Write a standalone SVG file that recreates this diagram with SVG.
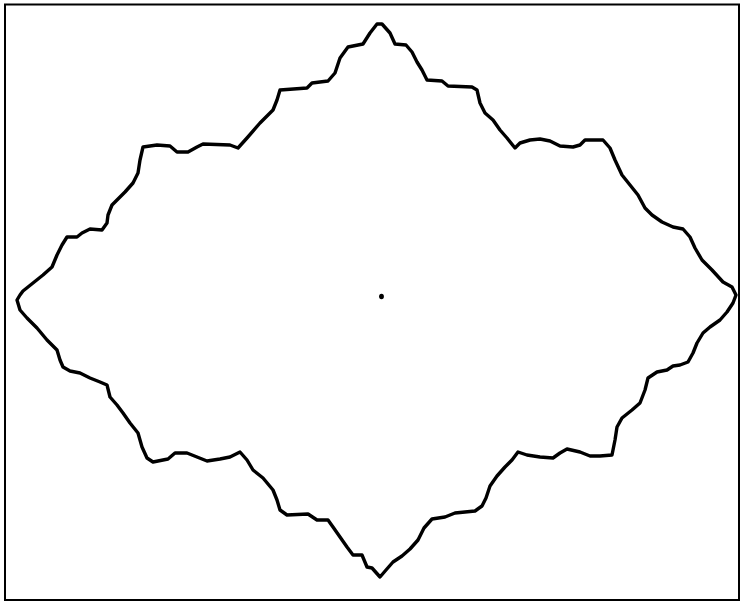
<svg xmlns="http://www.w3.org/2000/svg" width="741" height="602" viewBox="0 0 741 602">
<style>
.frame{fill:none;stroke:#000;stroke-width:2}
.curve{fill:none;stroke:#000;stroke-width:3.4;stroke-linejoin:round;stroke-linecap:round}
</style>
<rect x="0" y="0" width="741" height="602" fill="#fff"/>
<rect class="frame" x="5" y="4.5" width="734" height="595.5"/>
<g id="fractal">
<path class="curve" d="M17,300 L20,295 L23,291 L33,283 L43,275 L52,267 L57,255 L62,245 L67,237 L77,237 L82,233 L90,229 L102,230 L107,223 L108,215 L112,205 L117,200 L125,192 L133,183 L138,173 L140,160 L143,147 L157,145 L170,146 L177,152 L188,152 L197,147 L203,144 L230,145 L238,148 L247,138 L260,123 L273,110 L277,100 L280,90 L307,88 L312,83 L328,81 L335,73 L340,58 L348,47 L363,44 L370,33 L377,24 L382,24 L390,33 L395,44 L406,45 L412,52 L417,62 L422,70 L427,80 L442,81 L448,86 L472,87 L477,90 L480,103 L485,113 L493,120 L500,130 L507,138 L515,148 L520,143 L530,140 L540,139 L550,141 L560,146 L573,147 L580,145 L585,140 L603,140 L610,148 L615,160 L622,175 L630,185 L638,195 L645,208 L652,215 L662,222 L673,227 L683,229 L690,237 L695,248 L702,260 L712,270 L723,282 L732,287 L736,295 L733,303 L727,312 L720,320 L710,327 L703,333 L697,343 L693,353 L688,362 L680,365 L673,366 L667,370 L657,372 L648,378 L645,390 L640,403 L632,410 L622,418 L617,427 L615,440 L612,455 L600,456 L590,456 L580,452 L567,449 L560,453 L553,458 L540,457 L527,455 L518,452 L512,460 L505,467 L497,476 L490,486 L486,498 L482,506 L475,511 L455,513 L445,517 L432,519 L424,528 L418,540 L410,549 L402,556 L393,562 L386,570 L380,577 L372,568 L367,567 L362,555 L353,555 L347,547 L340,537 L333,527 L328,520 L317,520 L308,514 L287,515 L280,510 L277,500 L273,490 L263,478 L253,470 L247,460 L240,452 L230,457 L220,459 L207,461 L197,457 L187,453 L175,453 L168,459 L153,462 L147,458 L142,447 L138,433 L130,423 L123,413 L117,405 L110,397 L107,385 L100,382 L90,378 L80,373 L70,371 L63,367 L60,360 L57,350 L47,340 L37,328 L27,318 L20,310 Z"/>
</g>
<g id="center">
<ellipse cx="381.5" cy="296.5" rx="2.4" ry="2.8" fill="#000"/>
</g>
</svg>
